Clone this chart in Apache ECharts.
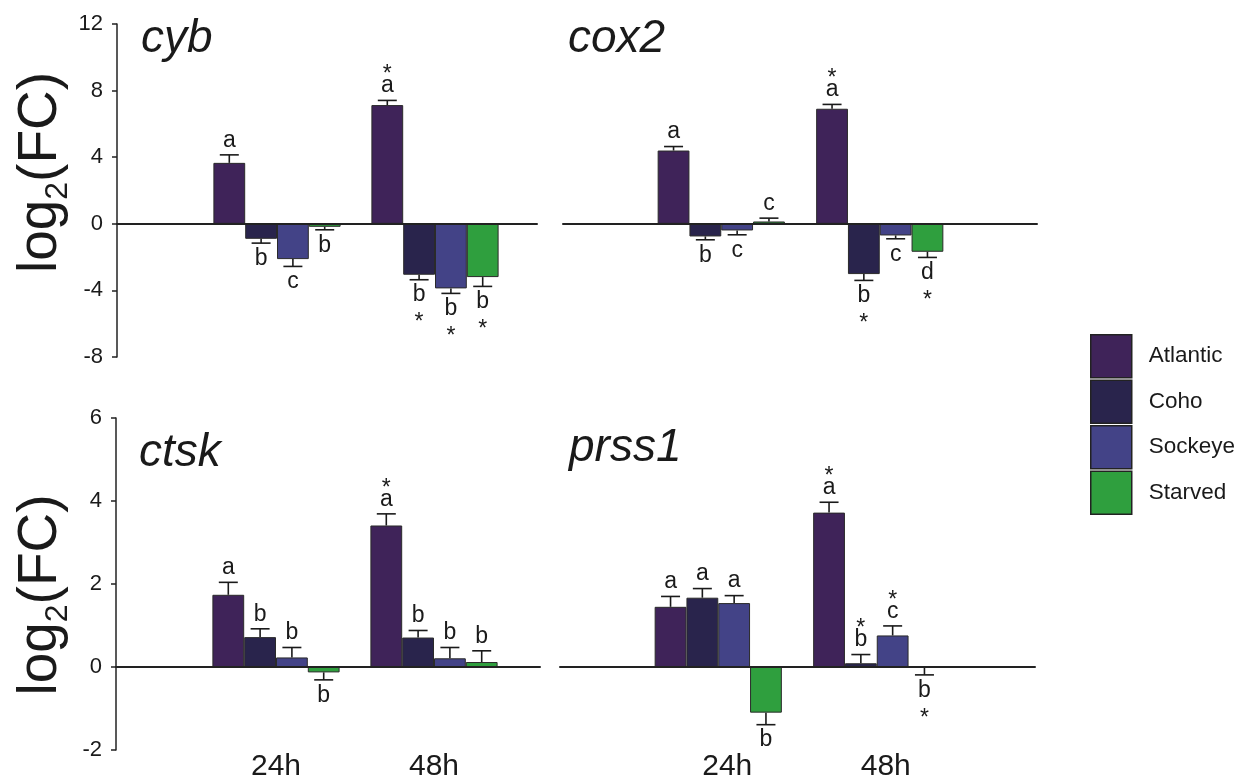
<!DOCTYPE html>
<html>
<head>
<meta charset="utf-8">
<script src="https://cdn.jsdelivr.net/npm/echarts@6/dist/echarts.min.js"></script>
<style>html,body{margin:0;padding:0;background:#fff}#c{width:1239px;height:778px}</style>
</head>
<body>
<div id="c"></div>
<script>
// ---- data ----
const groups = ['24h', '48h'];
const seriesNames = ['Atlantic', 'Coho', 'Sockeye', 'Starved'];
const seriesColors = ['#3f2359', '#29244c', '#434387', '#2f9f3e'];

// rows: Atlantic, Coho, Sockeye, Starved ; cols: 24h, 48h
const cybMean = [[3.66, 7.13], [-0.90, -3.06], [-2.12, -3.88], [-0.18, -3.20]];
const cybErr = [[0.48, 0.28], [0.26, 0.30], [0.44, 0.30], [0.18, 0.56]];
const cybLetters = [['a', 'a'], ['b', 'b'], ['c', 'b'], ['b', 'b']];
const cybStars = [[0, 1], [0, 1], [0, 1], [0, 1]];

const cox2Mean = [[4.40, 6.91], [-0.76, -3.02], [-0.40, -0.70], [0.14, -1.68]];
const cox2Err = [[0.24, 0.26], [0.20, 0.38], [0.26, 0.20], [0.20, 0.34]];
const cox2Letters = [['a', 'a'], ['b', 'b'], ['c', 'c'], ['c', 'd']];
const cox2Stars = [[0, 1], [0, 1], [0, 0], [0, 1]];

const ctskMean = [[1.74, 3.41], [0.72, 0.71], [0.23, 0.21], [-0.13, 0.12]];
const ctskErr = [[0.30, 0.28], [0.20, 0.17], [0.24, 0.26], [0.18, 0.27]];
const ctskLetters = [['a', 'a'], ['b', 'b'], ['b', 'b'], ['b', 'b']];
const ctskStars = [[0, 1], [0, 0], [0, 0], [0, 0]];

const prss1Mean = [[1.45, 3.72], [1.67, 0.09], [1.54, 0.76], [-1.10, -0.02]];
const prss1Err = [[0.25, 0.25], [0.22, 0.21], [0.18, 0.23], [0.29, 0.17]];
const prss1Letters = [['a', 'a'], ['a', 'b'], ['a', 'c'], ['b', 'b']];
const prss1Stars = [[0, 1], [0, 1], [0, 1], [0, 1]];

const topTicks = {min: -8, max: 12, interval: 4};
const bottomTicks = {min: -2, max: 6, interval: 2};

// ---- layout ----
const FONT = '"Liberation Sans", Arial, Helvetica, sans-serif';
const BAR_W = 31.8;
const panels = [
  {title: 'cyb', mean: cybMean, err: cybErr, letters: cybLetters, stars: cybStars, ticks: topTicks,
   top: 24, height: 333, aLeft: 117, aWidth: 420, bLeft: 198, bWidth: 316, left: true, bottom: false,
   tl: 141, tt: 16, nameShift: [0, 0, 0, 36]},
  {title: 'cox2', mean: cox2Mean, err: cox2Err, letters: cox2Letters, stars: cox2Stars, ticks: topTicks,
   top: 24, height: 333, aLeft: 563, aWidth: 474, bLeft: 642, bWidth: 317, left: false, bottom: false,
   tl: 568, tt: 16},
  {title: 'ctsk', mean: ctskMean, err: ctskErr, letters: ctskLetters, stars: ctskStars, ticks: bottomTicks,
   top: 418, height: 332, aLeft: 116, aWidth: 424, bLeft: 197, bWidth: 316, left: true, bottom: true,
   tl: 139, tt: 430, nameShift: [0, 22, 0, 0]},
  {title: 'prss1', mean: prss1Mean, err: prss1Err, letters: prss1Letters, stars: prss1Stars, ticks: bottomTicks,
   top: 418, height: 332, aLeft: 560, aWidth: 475, bLeft: 639, bWidth: 317, left: false, bottom: true,
   tl: 569, tt: 425}
];

const grids = [], xAxes = [], yAxes = [], series = [], titles = [];
panels.forEach((p, pi) => {
  const ga = pi * 2, gb = pi * 2 + 1;
  grids.push({left: p.aLeft, width: p.aWidth, top: p.top, height: p.height, outerBoundsMode: 'none', containLabel: false});
  grids.push({left: p.bLeft, width: p.bWidth, top: p.top, height: p.height, outerBoundsMode: 'none', containLabel: false});
  xAxes.push({gridIndex: ga, type: 'value', min: 0, max: 1, z: 10,
    axisLine: {show: true, onZero: true, lineStyle: {color: '#222', width: 2}},
    axisTick: {show: false}, axisLabel: {show: false}, splitLine: {show: false}});
  xAxes.push({gridIndex: gb, type: 'category', data: groups, position: 'bottom',
    axisLine: {show: false, onZero: false}, axisTick: {show: false}, splitLine: {show: false},
    axisLabel: {show: p.bottom, fontSize: 30, color: '#1a1a1a', fontFamily: FONT, margin: 2,
      padding: p.left ? 0 : [0, 0, 0, 18]}});
  const yA = {gridIndex: ga, type: 'value', min: p.ticks.min, max: p.ticks.max, interval: p.ticks.interval,
    splitLine: {show: false}};
  if (p.left) {
    Object.assign(yA, {
      axisLine: {show: true, lineStyle: {color: '#222', width: 1.5}},
      axisTick: {show: true, inside: false, length: 5, lineStyle: {color: '#222', width: 1.5}},
      axisLabel: {fontSize: 22, color: '#1a1a1a', fontFamily: FONT, margin: 14},
      name: '{m|log}{s|2}{m|(FC)}', nameLocation: 'middle', nameRotate: 90, nameGap: 48,
      nameTextStyle: {padding: p.nameShift, color: '#1a1a1a',
        rich: {m: {fontSize: 55, fontFamily: FONT, color: '#1a1a1a'},
               s: {fontSize: 32, fontFamily: FONT, color: '#1a1a1a', verticalAlign: 'bottom', padding: [0, 0, -6, 0]}}}
    });
  } else {
    Object.assign(yA, {show: false});
  }
  yAxes.push(yA);
  yAxes.push({gridIndex: gb, type: 'value', min: p.ticks.min, max: p.ticks.max, interval: p.ticks.interval, show: false});

  seriesNames.forEach((nm, si) => {
    series.push({type: 'bar', name: nm, xAxisIndex: gb, yAxisIndex: gb, data: p.mean[si],
      barWidth: BAR_W, barGap: '0%', z: 2,
      itemStyle: {color: seriesColors[si], borderColor: '#2a2a2a', borderWidth: 1}});
  });

  const items = [];
  seriesNames.forEach((nm, si) => {
    groups.forEach((g, gi) => {
      items.push({value: [gi, si, p.mean[si][gi], p.err[si][gi]],
        letter: p.letters[si][gi], star: p.stars[si][gi]});
    });
  });
  series.push({type: 'custom', xAxisIndex: gb, yAxisIndex: gb, z: 5, silent: true,
    data: items.map(d => d.value),
    renderItem: function (params, api) {
      const it = items[params.dataIndex];
      const cat = api.value(0), si = api.value(1), m = api.value(2), e = api.value(3);
      const cx = api.coord([cat, 0])[0] + (si - 1.5) * BAR_W;
      const dir = m >= 0 ? 1 : -1;
      const y0 = api.coord([cat, m])[1];
      const y1 = api.coord([cat, m + dir * e])[1];
      const ls = {stroke: '#1a1a1a', lineWidth: 1.6};
      const ch = [
        {type: 'line', shape: {x1: cx, y1: y0, x2: cx, y2: y1}, style: ls},
        {type: 'line', shape: {x1: cx - 9.5, y1: y1, x2: cx + 9.5, y2: y1}, style: ls}
      ];
      const ts = (txt, y) => ({type: 'text', style: {text: txt, x: cx, y: y, fill: '#1a1a1a',
        fontSize: 23, fontFamily: FONT, align: 'center', verticalAlign: 'middle'}});
      if (dir > 0) {
        const ly = y1 - 14.5;
        ch.push(ts(it.letter, ly));
        if (it.star) ch.push(ts('*', ly - 11));
      } else {
        const ly = y1 + 15.4;
        ch.push(ts(it.letter, ly));
        if (it.star) ch.push(ts('*', ly + 28));
      }
      return {type: 'group', children: ch};
    }});

  titles.push({text: p.title, left: p.tl, top: p.tt, padding: 0,
    textStyle: {fontSize: 46, fontStyle: 'italic', fontWeight: 'normal', color: '#1a1a1a', fontFamily: FONT}});
});

const chart = echarts.init(document.getElementById('c'), null, {renderer: 'canvas'});
chart.setOption({
  backgroundColor: '#fff',
  animation: false,
  title: titles,
  grid: grids,
  xAxis: xAxes,
  yAxis: yAxes,
  legend: {data: seriesNames, orient: 'vertical', left: 1090, top: 334, padding: 0,
    itemWidth: 41, itemHeight: 43, itemGap: 1, icon: 'rect',
    itemStyle: {borderColor: '#222', borderWidth: 1.5},
    textStyle: {fontSize: 22.5, color: '#1a1a1a', fontFamily: FONT, padding: [0, 0, 0, 12]}},
  series: series
});
</script>
</body>
</html>
